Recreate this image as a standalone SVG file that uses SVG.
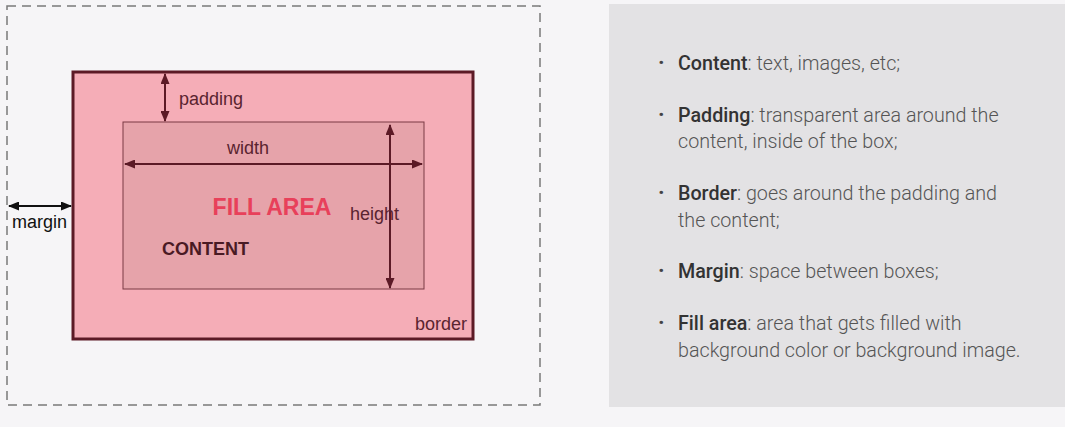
<svg xmlns="http://www.w3.org/2000/svg" width="1065" height="427" viewBox="0 0 1065 427">
<style>
.lbl{font-family:"Liberation Sans",Arial,sans-serif;font-size:18px;fill:#5a2430}
.li{font-family:Roboto,"Liberation Sans",sans-serif;font-size:19.7px;font-weight:300;fill:#555}
.li tspan.b{font-weight:500;fill:#333}
.bul{font-family:Roboto,"Liberation Sans",sans-serif;font-size:22px;font-weight:700;fill:#444}
.arr{stroke:#5c1a26;stroke-width:2;fill:none}
</style>
<defs>
<marker id="ah" markerUnits="userSpaceOnUse" markerWidth="11" markerHeight="9" refX="10" refY="4.5" orient="auto-start-reverse"><path d="M0,0 L11,4.5 L0,9 z" fill="#5c1a26"/></marker>
<marker id="ahk" markerUnits="userSpaceOnUse" markerWidth="11" markerHeight="9" refX="10" refY="4.5" orient="auto-start-reverse"><path d="M0,0 L11,4.5 L0,9 z" fill="#111"/></marker>
</defs>
<rect x="0" y="0" width="1065" height="427" fill="#f6f5f7"/>
<g id="margin-box"><rect x="7" y="6" width="533" height="399" fill="none" stroke="#7a7a7a" stroke-width="1.5" stroke-dasharray="9 6"/></g>
<g id="border-box"><rect x="73" y="72" width="400" height="267" fill="#f5adb7" stroke="#5c1a26" stroke-width="3"/><text class="lbl" x="415" y="330">border</text></g>
<g id="content-box"><rect x="123" y="122" width="301" height="167" fill="#e6a3aa" stroke="#7a3a44" stroke-width="1"/>
<text x="272" y="215" text-anchor="middle" font-family="Liberation Sans,Arial,sans-serif" font-size="23" font-weight="bold" fill="#e8405a">FILL AREA</text>
<text x="162" y="255" font-family="Liberation Sans,Arial,sans-serif" font-size="18" font-weight="bold" fill="#4a1a24">CONTENT</text></g>
<g id="connectors">
<line class="arr" x1="165" y1="74" x2="165" y2="121" marker-start="url(#ah)" marker-end="url(#ah)"/>
<line class="arr" x1="125" y1="164" x2="422" y2="164" marker-start="url(#ah)" marker-end="url(#ah)"/>
<line class="arr" x1="390" y1="125" x2="390" y2="288" marker-start="url(#ah)" marker-end="url(#ah)"/>
<line x1="9" y1="206" x2="71" y2="206" stroke="#111" stroke-width="2" marker-start="url(#ahk)" marker-end="url(#ahk)"/>
</g>
<g id="labels">
<text class="lbl" x="179" y="105">padding</text>
<text class="lbl" x="227" y="154">width</text>
<text class="lbl" x="350" y="220">height</text>
<text class="lbl" x="12" y="228" style="fill:#111">margin</text>
</g>
<g id="panel">
<rect x="609" y="4" width="456" height="403" fill="#e3e2e4"/>
<text class="bul" x="658" y="70">·</text>
<text class="li" x="678" y="70"><tspan class="b">Content</tspan>: text, images, etc;</text>
<text class="bul" x="658" y="122">·</text>
<text class="li" x="678" y="122"><tspan class="b">Padding</tspan>: transparent area around the</text>
<text class="li" x="678" y="148">content, inside of the box;</text>
<text class="bul" x="658" y="200">·</text>
<text class="li" x="678" y="200"><tspan class="b">Border</tspan>: goes around the padding and</text>
<text class="li" x="678" y="227">the content;</text>
<text class="bul" x="658" y="278">·</text>
<text class="li" x="678" y="278"><tspan class="b">Margin</tspan>: space between boxes;</text>
<text class="bul" x="658" y="330">·</text>
<text class="li" x="678" y="330"><tspan class="b">Fill area</tspan>: area that gets filled with</text>
<text class="li" x="678" y="357">background color or background image.</text>
</g>
</svg>
